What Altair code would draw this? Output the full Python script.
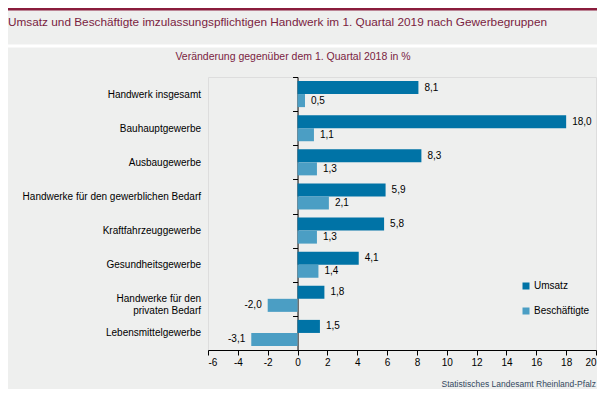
import altair as alt
import pandas as pd

# ---- data ----
categories = [
    "Handwerk insgesamt",
    "Bauhauptgewerbe",
    "Ausbaugewerbe",
    "Handwerke für den gewerblichen Bedarf",
    "Kraftfahrzeuggewerbe",
    "Gesundheitsgewerbe",
    "Handwerke für den\nprivaten Bedarf",
    "Lebensmittelgewerbe",
]
umsatz = [8.1, 18.0, 8.3, 5.9, 5.8, 4.1, 1.8, 1.5]
beschaeftigte = [0.5, 1.1, 1.3, 2.1, 1.3, 1.4, -2.0, -3.1]
series = ["Umsatz", "Beschäftigte"]
x_ticks = list(range(-6, 21, 2))

title_text = "Umsatz und Beschäftigte imzulassungspflichtigen Handwerk im 1. Quartal 2019 nach Gewerbegruppen"
subtitle_text = "Veränderung gegenüber dem 1. Quartal 2018 in %"
source_text = "Statistisches Landesamt Rheinland-Pfalz"

colors = ["#0073a6", "#4b9ec4"]
dark_red = "#7a1d3f"
bg = "#eeefee"

rows = []
for c, u, b in zip(categories, umsatz, beschaeftigte):
    rows.append({"cat": c, "series": series[0], "value": u})
    rows.append({"cat": c, "series": series[1], "value": b})
df = pd.DataFrame(rows)
df["label"] = df["value"].map(lambda v: f"{v:.1f}".replace(".", ","))

W, H = 388, 273
XMIN, XMAX = -6, 20
zero_px = (0 - XMIN) / (XMAX - XMIN) * W

y_enc = alt.Y(
    "cat:N",
    sort=categories,
    scale=alt.Scale(paddingInner=0, paddingOuter=0),
    axis=alt.Axis(
        title=None,
        offset=-zero_px,
        tickBand="extent",
        tickSize=5,
        tickColor="black",
        domainColor="black",
        labelPadding=92,
        labelFontSize=10,
        labelColor="black",
        labelLimit=300,
        labelExpr="split(datum.label, '\\n')",
        grid=False,
    ),
)
yoff_enc = alt.YOffset(
    "series:N", sort=series, scale=alt.Scale(paddingInner=0, paddingOuter=0.3077)
)
x_enc = alt.X(
    "value:Q",
    scale=alt.Scale(domain=[XMIN, XMAX], nice=False, zero=False),
    axis=alt.Axis(
        title=None,
        values=x_ticks,
        tickCount=30,
        tickSize=5,
        tickColor="black",
        domainColor="black",
        labelFontSize=10,
        labelColor="black",
        labelPadding=2,
        labelOverlap=False,
        labelExpr="datum.value + ''",
        grid=False,
    ),
)

base = alt.Chart(df)

bars = base.mark_bar().encode(
    y=y_enc,
    yOffset=yoff_enc,
    x=x_enc,
    color=alt.Color(
        "series:N",
        sort=series,
        scale=alt.Scale(domain=series, range=colors),
        legend=alt.Legend(
            title=None,
            orient="none",
            legendX=313,
            legendY=204,
            symbolType="square",
            symbolSize=49,
            symbolStrokeWidth=0,
            labelFontSize=10,
            labelColor="black",
            labelOffset=3,
            rowPadding=15,
        ),
    ),
)

pos_text = base.transform_filter("datum.value >= 0").mark_text(
    align="left", baseline="middle", dx=6, fontSize=10, color="black"
).encode(y=alt.Y("cat:N", sort=categories), yOffset=alt.YOffset("series:N", sort=series),
         x="value:Q", text="label:N")

neg_text = base.transform_filter("datum.value < 0").mark_text(
    align="right", baseline="middle", dx=-6, fontSize=10, color="black"
).encode(y=alt.Y("cat:N", sort=categories), yOffset=alt.YOffset("series:N", sort=series),
         x="value:Q", text="label:N")

top_line = alt.Chart(pd.DataFrame({"a": [0]})).mark_rule(color="#8a1c3c", strokeWidth=3).encode(
    x=alt.value(-200), x2=alt.value(389), y=alt.value(-68)
)
sep_line = alt.Chart(pd.DataFrame({"a": [0]})).mark_rule(color="white", strokeWidth=3).encode(
    x=alt.value(-200), x2=alt.value(389), y=alt.value(-31)
)
title = alt.Chart(pd.DataFrame({"t": [title_text]})).mark_text(
    align="left", baseline="middle", fontSize=11.8, color=dark_red
).encode(text="t:N", x=alt.value(-200), y=alt.value(-55))
subtitle = alt.Chart(pd.DataFrame({"t": [subtitle_text]})).mark_text(
    align="center", baseline="middle", fontSize=10.5, color=dark_red
).encode(text="t:N", x=alt.value(85), y=alt.value(-20))
source = alt.Chart(pd.DataFrame({"t": [source_text]})).mark_text(
    align="right", baseline="middle", fontSize=8.5, color="#34495e"
).encode(text="t:N", x=alt.value(388), y=alt.value(307))

chart = alt.layer(
    top_line, sep_line, title, subtitle, bars, pos_text, neg_text, source
).properties(
    width=W,
    height=H,
    autosize=alt.AutoSizeParams(type="none"),
    padding={"left": 200, "top": 69, "right": 1, "bottom": 39},
    background=bg,
).configure_view(stroke=None).configure(font="Liberation Sans")

chart.save("out.html", embed_options={"renderer": "svg", "actions": False})
